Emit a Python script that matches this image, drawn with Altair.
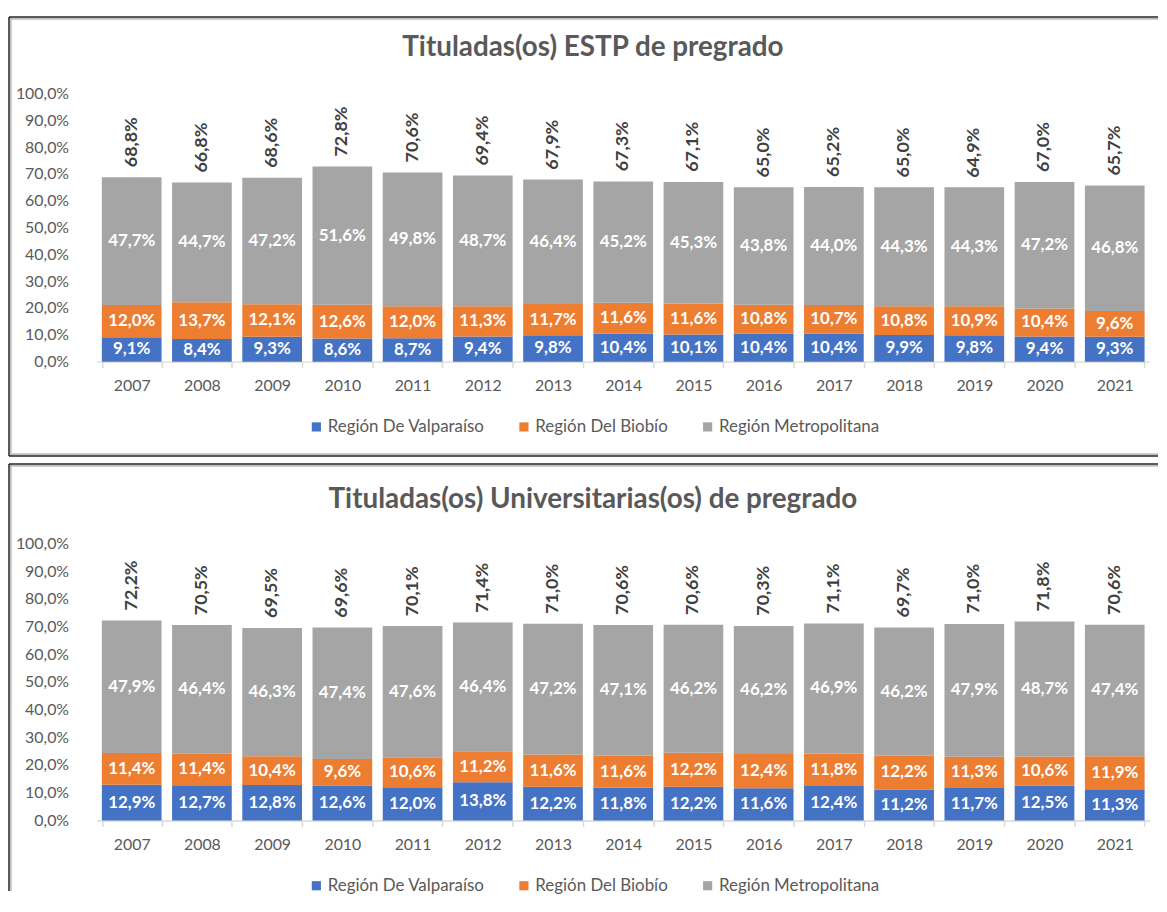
import altair as alt
import pandas as pd

years = [2007, 2008, 2009, 2010, 2011, 2012, 2013, 2014, 2015, 2016, 2017, 2018, 2019, 2020, 2021]
regions = ["Región De Valparaíso", "Región Del Biobío", "Región Metropolitana"]
colors = ["#4472C4", "#ED7D31", "#A5A5A5"]

estp_valpo = [9.1, 8.4, 9.3, 8.6, 8.7, 9.4, 9.8, 10.4, 10.1, 10.4, 10.4, 9.9, 9.8, 9.4, 9.3]
estp_biobio = [12.0, 13.7, 12.1, 12.6, 12.0, 11.3, 11.7, 11.6, 11.6, 10.8, 10.7, 10.8, 10.9, 10.4, 9.6]
estp_metro = [47.7, 44.7, 47.2, 51.6, 49.8, 48.7, 46.4, 45.2, 45.3, 43.8, 44.0, 44.3, 44.3, 47.2, 46.8]
estp_total = [68.8, 66.8, 68.6, 72.8, 70.6, 69.4, 67.9, 67.3, 67.1, 65.0, 65.2, 65.0, 64.9, 67.0, 65.7]

univ_valpo = [12.9, 12.7, 12.8, 12.6, 12.0, 13.8, 12.2, 11.8, 12.2, 11.6, 12.4, 11.2, 11.7, 12.5, 11.3]
univ_biobio = [11.4, 11.4, 10.4, 9.6, 10.6, 11.2, 11.6, 11.6, 12.2, 12.4, 11.8, 12.2, 11.3, 10.6, 11.9]
univ_metro = [47.9, 46.4, 46.3, 47.4, 47.6, 46.4, 47.2, 47.1, 46.2, 46.2, 46.9, 46.2, 47.9, 48.7, 47.4]
univ_total = [72.2, 70.5, 69.5, 69.6, 70.1, 71.4, 71.0, 70.6, 70.6, 70.3, 71.1, 69.7, 71.0, 71.8, 70.6]

y_ticks = [0, 10, 20, 30, 40, 50, 60, 70, 80, 90, 100]

FONT = "Lato"
GREY_TXT = "#595959"
W = 1061


def one_row():
    return alt.Chart(pd.DataFrame({"k": [0]}))


def panel(title, valpo, biobio, metro, total, h, title_y, f_top, f_bottom, legend_y, bottom_line):
    rows = []
    for i, yr in enumerate(years):
        for j, (reg, vals) in enumerate(zip(regions, [valpo, biobio, metro])):
            rows.append({"year": str(yr), "region": reg, "value": vals[i], "order": j})
    df = pd.DataFrame(rows)
    tdf = pd.DataFrame({"year": [str(y) for y in years], "total": total})

    xscale = alt.Scale(paddingInner=0.15, paddingOuter=0.078)
    xaxis = alt.Axis(
        labelAngle=0, tickBand="extent", domainColor="#D9D9D9", domainWidth=1.5,
        tickColor="#D9D9D9", tickWidth=1.5, tickSize=6, labelPadding=10,
        labelFontSize=16, labelColor=GREY_TXT, labelFont=FONT, title=None,
    )
    yscale = alt.Scale(domain=[0, 100], nice=False)
    yaxis = alt.Axis(
        values=y_ticks,
        labelExpr="replace(format(datum.value, '.1f'), '.', ',') + '%'",
        grid=False, domain=False, ticks=False, labelPadding=28, labelOverlap=False,
        labelFontSize=16, labelColor=GREY_TXT, labelFont=FONT, title=None,
    )

    def X():
        return alt.X("year:O", scale=xscale, axis=xaxis)

    def Y(field):
        return alt.Y(field, scale=yscale, axis=yaxis)

    base = alt.Chart(df).transform_stack(
        stack="value", groupby=["year"], as_=["v0", "v1"],
        sort=[alt.SortField("order", order="ascending")],
    ).transform_calculate(
        mid="(datum.v0 + datum.v1) / 2",
        lbl="replace(format(datum.value, '.1f'), '.', ',') + '%'",
    )

    bars = base.mark_bar().encode(
        x=X(),
        y=Y("v0:Q"),
        y2="v1:Q",
        color=alt.Color(
            "region:N",
            scale=alt.Scale(domain=regions, range=colors),
            legend=alt.Legend(
                orient="none", legendX=213, legendY=legend_y, direction="horizontal",
                title=None, symbolType="square", symbolSize=85, symbolStrokeWidth=0,
                labelFontSize=17, labelFont=FONT, labelColor=GREY_TXT, labelLimit=400,
                columnPadding=31, labelOffset=3,
            ),
        ),
    )

    seg = base.mark_text(
        color="white", fontWeight="bold", fontSize=17, font=FONT, baseline="middle"
    ).encode(x=X(), y=Y("mid:Q"), text="lbl:N")

    tot = alt.Chart(tdf).transform_calculate(
        lbl="replace(format(datum.total, '.1f'), '.', ',') + '%'"
    ).mark_text(
        angle=270, align="left", baseline="middle", dx=10,
        color="#404040", fontWeight="bold", fontSize=18, font=FONT,
    ).encode(x=X(), y=Y("total:Q"), text="lbl:N")

    ttl = one_row().mark_text(
        text=title, fontSize=28, font=FONT, fontWeight="bold", color=GREY_TXT,
        align="center", baseline="middle",
    ).encode(x=alt.value(500), y=alt.value(title_y))

    dark = "#262626"
    light = "#BFBFBF"
    frame = [
        one_row().mark_rule(color=light, strokeWidth=2).encode(
            x=alt.value(-86.25), y=alt.value(f_top), y2=alt.value(f_bottom)),
        one_row().mark_rule(color=light, strokeWidth=2).encode(
            x=alt.value(-88), x2=alt.value(1069), y=alt.value(f_top + 1.75)),
        one_row().mark_rule(color=dark, strokeWidth=1.5).encode(
            x=alt.value(-88), y=alt.value(f_top), y2=alt.value(f_bottom)),
        one_row().mark_rule(color=dark, strokeWidth=1.5).encode(
            x=alt.value(-88), x2=alt.value(1069), y=alt.value(f_top)),
    ]
    if bottom_line:
        frame += [
            one_row().mark_rule(color=light, strokeWidth=2).encode(
                x=alt.value(-87), x2=alt.value(1069), y=alt.value(f_bottom - 1.75)),
            one_row().mark_rule(color=dark, strokeWidth=1.5).encode(
                x=alt.value(-88), x2=alt.value(1069), y=alt.value(f_bottom)),
        ]

    return alt.layer(bars, seg, tot, ttl, *frame).properties(width=W, height=h)


top = panel("Tituladas(os) ESTP de pregrado", estp_valpo, estp_biobio, estp_metro, estp_total,
            270, -46, -77, 365, 327, True)
bottom = panel("Tituladas(os) Universitarias(os) de pregrado", univ_valpo, univ_biobio, univ_metro,
               univ_total, 279, -44, -80, 350, 336, False)

chart = alt.vconcat(top, bottom, spacing=6).resolve_scale(
    color="independent", x="independent", y="independent"
).resolve_legend(color="independent").properties(
    padding={"top": 5, "left": 0, "right": 0, "bottom": 0}
).configure(font=FONT).configure_view(stroke="transparent", strokeWidth=0)

chart.save("out.html", embed_options={"renderer": "svg", "actions": False})
